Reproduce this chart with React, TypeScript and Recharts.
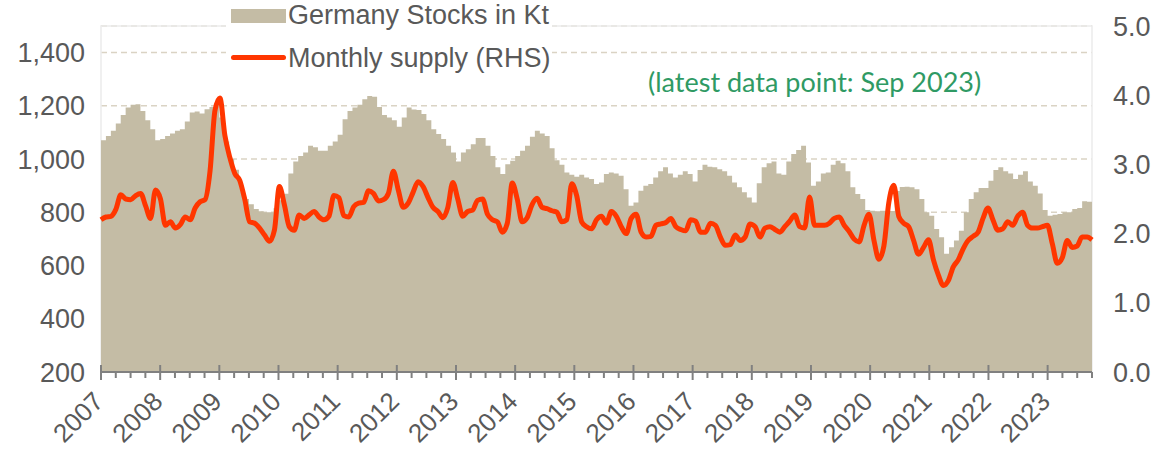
import React from 'react';
import { ComposedChart, Area, Line, XAxis, YAxis, CartesianGrid, ReferenceArea } from 'recharts';

// monthly, Jan 2007 .. Sep 2023
const YEARS = ['2007', '2008', '2009', '2010', '2011', '2012', '2013', '2014', '2015', '2016', '2017', '2018', '2019', '2020', '2021', '2022', '2023'];

// Germany stocks, Kt (left axis)
const STOCKS = [
  1071, 1087, 1106, 1134, 1166, 1194, 1204, 1206, 1181, 1146, 1112, 1071,
  1075, 1087, 1096, 1106, 1112, 1141, 1175, 1179, 1171, 1187, 1196, 1205,
  1156, 1066, 1000, 960, 900, 850, 830, 812, 804, 800, 800, 815,
  845, 870, 946, 991, 1012, 1025, 1050, 1044, 1031, 1031, 1050, 1066,
  1091, 1150, 1181, 1194, 1204, 1225, 1237, 1234, 1196, 1166, 1156, 1146,
  1121, 1156, 1194, 1186, 1184, 1169, 1146, 1112, 1094, 1075, 1050, 1025,
  991, 1025, 1037, 1056, 1079, 1079, 1050, 1012, 969, 944, 981, 994,
  1012, 1031, 1050, 1084, 1106, 1096, 1087, 1041, 996, 979, 950, 941,
  934, 941, 931, 925, 906, 912, 944, 950, 946, 937, 887, 825,
  837, 881, 900, 906, 931, 954, 969, 946, 931, 941, 954, 944,
  916, 959, 979, 971, 969, 962, 954, 937, 912, 894, 875, 856,
  837, 909, 969, 984, 991, 946, 941, 991, 1019, 1034, 1050, 987,
  900, 916, 946, 950, 979, 994, 984, 954, 894, 869, 850, 809,
  806, 804, 806, 806, 805, 880, 895, 896, 894, 887, 850, 800,
  787, 737, 706, 644, 669, 694, 731, 800, 850, 875, 891, 891,
  919, 959, 969, 954, 946, 925, 941, 954, 916, 900, 871, 809,
  787, 791, 794, 800, 800, 812, 816, 842, 840,
];

// monthly supply (right axis)
const SUPPLY = [
  2.20, 2.24, 2.25, 2.35, 2.56, 2.50, 2.49, 2.55, 2.58, 2.40, 2.22, 2.63,
  2.50, 2.12, 2.17, 2.08, 2.13, 2.24, 2.20, 2.37, 2.46, 2.49, 2.90, 3.78,
  3.96, 3.42, 3.10, 2.87, 2.77, 2.50, 2.17, 2.15, 2.08, 1.98, 1.89, 2.05,
  2.68, 2.42, 2.10, 2.05, 2.27, 2.22, 2.27, 2.32, 2.24, 2.20, 2.25, 2.55,
  2.52, 2.26, 2.24, 2.39, 2.44, 2.45, 2.62, 2.58, 2.47, 2.49, 2.58, 2.90,
  2.63, 2.38, 2.44, 2.60, 2.75, 2.68, 2.52, 2.38, 2.32, 2.23, 2.38, 2.74,
  2.50, 2.25, 2.32, 2.34, 2.48, 2.50, 2.28, 2.20, 2.17, 2.02, 2.15, 2.73,
  2.50, 2.17, 2.23, 2.42, 2.51, 2.38, 2.36, 2.33, 2.31, 2.17, 2.20, 2.72,
  2.55, 2.17, 2.10, 2.07, 2.20, 2.25, 2.15, 2.32, 2.25, 2.10, 2.00, 2.22,
  2.28, 2.02, 1.95, 1.96, 2.12, 2.14, 2.16, 2.22, 2.10, 2.06, 2.04, 2.20,
  2.18, 2.02, 2.02, 2.15, 2.12, 1.95, 1.83, 1.84, 1.98, 1.90, 1.95, 2.14,
  2.10, 1.95, 2.08, 2.10, 2.06, 2.02, 2.10, 2.18, 2.27, 2.10, 2.08, 2.53,
  2.12, 2.12, 2.12, 2.15, 2.22, 2.24, 2.12, 2.03, 1.92, 1.88, 2.12, 2.28,
  1.90, 1.63, 1.82, 2.45, 2.70, 2.25, 2.15, 2.10, 1.90, 1.70, 1.80, 1.91,
  1.62, 1.40, 1.25, 1.32, 1.52, 1.62, 1.78, 1.90, 1.96, 2.02, 2.22, 2.37,
  2.20, 2.05, 2.07, 2.17, 2.12, 2.25, 2.31, 2.12, 2.08, 2.08, 2.10, 2.12,
  1.85, 1.57, 1.65, 1.90, 1.80, 1.82, 1.95, 1.95, 1.91,
];

const LEFT_TICKS = [200, 400, 600, 800, 1000, 1200, 1400];
const RIGHT_TICKS = [0, 1, 2, 3, 4, 5];

const stockRows = STOCKS.map((v, i) => ({ m: i, stock: v }));
// extra row so the last month gets its full step width
stockRows.push({ m: STOCKS.length, stock: STOCKS[STOCKS.length - 1] });
const supplyRows = SUPPLY.map((v, i) => ({ m: i, supply: v }));
const quarterTicks = Array.from({ length: STOCKS.length / 3 + 1 }, (_, i) => i * 3);

const AXIS_GREY = '#808080';
const TEXT_GREY = '#595959';
const FONT = '"Liberation Sans", Arial, sans-serif';

const YearTick = (props: any) => {
  const { x, y, payload } = props;
  const v = payload.value;
  const major = v % 12 === 0;
  const label = major ? YEARS[v / 12] : undefined;
  const ax = x + 4;
  const ay = y + 31;
  return (
    <g>
      <line x1={x} x2={x} y1={major ? y - 7 : y} y2={y + (major ? 8 : 6)} stroke={AXIS_GREY} strokeWidth={2} />
      {label && (
        <text
          x={ax}
          y={ay}
          transform={`rotate(-45 ${ax} ${ay})`}
          textAnchor="end"
          fontSize={26}
          fill={TEXT_GREY}
          fontFamily={FONT}
        >
          {label}
        </text>
      )}
    </g>
  );
};

export default function App() {
  return (
    <div style={{ position: 'absolute', left: 0, top: 0, width: 1155, height: 452, background: '#fff' }}>
      <ComposedChart
        width={1155}
        height={452}
        data={stockRows}
        margin={{ top: 26, right: 0, bottom: 0, left: 0 }}
      >
        <CartesianGrid
          yAxisId="left"
          xAxisId="x"
          vertical={false}
          stroke="#DAD3C4"
          strokeWidth={1.5}
          strokeDasharray="6 4"
        />
        <ReferenceArea xAxisId="x" yAxisId="left" x1={0} x2={201} y1={200} y2={1500} fill="none" stroke="#ECECEC" strokeWidth={1.5} />
        <XAxis
          xAxisId="x"
          dataKey="m"
          type="number"
          domain={[0, 201]}
          ticks={quarterTicks}
          interval={0}
          height={80}
          tickSize={0}
          tickMargin={0}
          tickLine={false}
          axisLine={{ stroke: AXIS_GREY, strokeWidth: 2 }}
          tick={<YearTick />}
        />
        <XAxis xAxisId="line" dataKey="m" type="number" domain={[0, 200]} orientation="top" height={0} hide />
        <YAxis
          yAxisId="left"
          domain={[200, 1500]}
          ticks={LEFT_TICKS}
          width={101}
          axisLine={false}
          tickLine={false}
          tickSize={0}
          tickMargin={16}
          tickFormatter={(v: number) => v.toLocaleString('en-US')}
          tick={{ fill: TEXT_GREY, fontSize: 27, fontFamily: FONT }}
        />
        <YAxis
          yAxisId="right"
          orientation="right"
          domain={[0, 5]}
          ticks={RIGHT_TICKS}
          width={63}
          axisLine={false}
          tickLine={false}
          tickSize={0}
          tickMargin={21}
          tickFormatter={(v: number) => v.toFixed(1)}
          tick={{ fill: TEXT_GREY, fontSize: 27, fontFamily: FONT }}
        />
        <Area
          xAxisId="x"
          yAxisId="left"
          data={stockRows}
          dataKey="stock"
          type="stepAfter"
          fill="#C4BCA5"
          fillOpacity={1}
          stroke="none"
          isAnimationActive={false}
        />
        <Line
          xAxisId="line"
          yAxisId="right"
          data={supplyRows}
          dataKey="supply"
          type="monotone"
          stroke="#FF3600"
          strokeWidth={5}
          dot={false}
          isAnimationActive={false}
        />
      </ComposedChart>

      <div
        style={{
          position: 'absolute',
          left: 226,
          top: 0,
          width: 326,
          height: 76,
          background: '#fff',
          fontFamily: FONT,
          fontSize: 27,
          color: TEXT_GREY,
        }}
      >
        <div style={{ position: 'absolute', left: 5, top: 9, width: 55, height: 14, background: '#C4BCA5' }} />
        <div style={{ position: 'absolute', left: 62, top: 0, lineHeight: '30px', whiteSpace: 'nowrap' }}>Germany Stocks in Kt</div>
        <div style={{ position: 'absolute', left: 5, top: 55, width: 55, height: 5, borderRadius: 3, background: '#FF3600' }} />
        <div style={{ position: 'absolute', left: 62, top: 43, lineHeight: '30px', whiteSpace: 'nowrap' }}>Monthly supply (RHS)</div>
      </div>

      <div
        style={{
          position: 'absolute',
          left: 648,
          top: 65,
          fontFamily: 'Lato, "Open Sans", sans-serif',
          fontSize: 27,
          lineHeight: '34px',
          color: '#2F9A64',
          whiteSpace: 'nowrap',
        }}
      >
        (latest data point: Sep 2023)
      </div>
    </div>
  );
}
